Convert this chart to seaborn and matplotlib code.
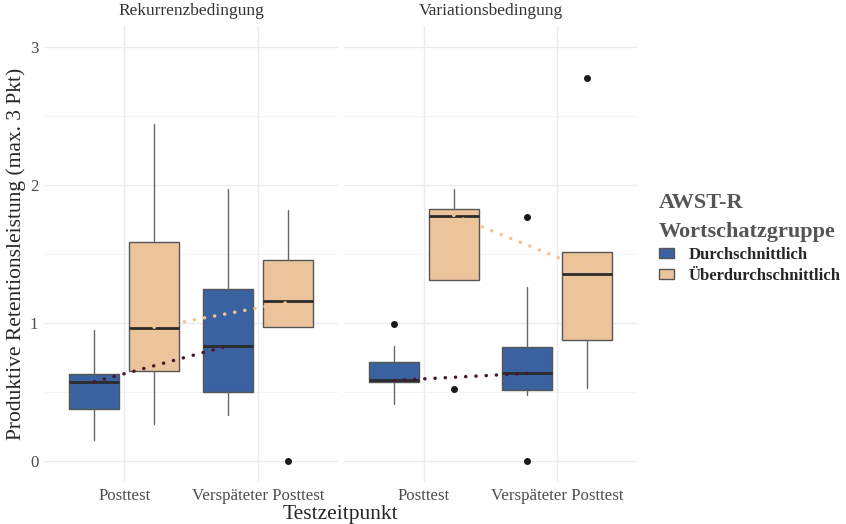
import numpy as np
import matplotlib.pyplot as plt
import seaborn as sns
from matplotlib.patches import Patch

# Data (box summary per condition / group / time point)
conditions = ['Rekurrenzbedingung', 'Variationsbedingung']
timepoints = ['Posttest', 'Verspäteter Posttest']
groups = ['Durchschnittlich', 'Überdurchschnittlich']

# order: [condition][group][timepoint]
q1 = [[[0.375, 0.50], [0.655, 0.97]],
      [[0.575, 0.515], [1.31, 0.875]]]
med = [[[0.575, 0.835], [0.965, 1.16]],
       [[0.585, 0.636], [1.778, 1.353]]]
q3 = [[[0.635, 1.25], [1.585, 1.46]],
      [[0.715, 0.828], [1.826, 1.512]]]
whislo = [[[0.157, 0.333], [0.273, 0.97]],
          [[0.413, 0.478], [1.31, 0.527]]]
whishi = [[[0.95, 1.97], [2.44, 1.82]],
          [[0.836, 1.263], [1.969, 1.512]]]
fliers = [[[[], []], [[], [0.0]]],
          [[[0.993], [1.768, 0.0]], [[0.522], [2.775]]]]

# dotted summary lines (posttest -> delayed posttest)
line_vals = [[[0.575, 0.835], [0.97, 1.15]],
             [[0.585, 0.636], [1.78, 1.39]]]

box_colors = ['#3B62A0', '#ECC49C']
line_colors = ['#4A1530', '#F3C48E']

sns.set_theme(style='whitegrid')
plt.rcParams['font.family'] = ['Liberation Serif', 'DejaVu Serif']

fig = plt.figure(figsize=(8.46, 5.24), dpi=100)
axes = [fig.add_axes([44/846, 42/524, 294/846, 456/524]),
        fig.add_axes([344/846, 42/524, 293/846, 456/524])]

offset = 0.224
width = 0.373

for c, ax in enumerate(axes):
    for g in range(2):
        stats = []
        positions = []
        for t in range(2):
            stats.append(dict(q1=q1[c][g][t], med=med[c][g][t], q3=q3[c][g][t],
                              whislo=whislo[c][g][t], whishi=whishi[c][g][t],
                              fliers=fliers[c][g][t]))
            positions.append(t + (offset if g == 1 else -offset))
        ax.bxp(stats, positions=positions, widths=width, patch_artist=True,
               showcaps=False,
               boxprops=dict(facecolor=box_colors[g], edgecolor='#555555', linewidth=1.0),
               medianprops=dict(color='#2b2b2b', linewidth=2.0),
               whiskerprops=dict(color='#666666', linewidth=1.0),
               flierprops=dict(marker='o', markersize=4, markerfacecolor='#1a1a1a',
                               markeredgecolor='#1a1a1a'),
               zorder=2)
    for g in range(2):
        xs = [t + (offset if g == 1 else -offset) for t in range(2)]
        ax.plot(xs, line_vals[c][g], linestyle=(0, (0.05, 2.9)), color=line_colors[g],
                linewidth=2.5, dash_capstyle='round', zorder=5)

    ax.set_xlim(-0.6, 1.6)
    ax.set_ylim(-0.15, 3.15)
    ax.set_xticks([0, 1])
    ax.set_xticklabels(timepoints)
    ax.set_yticks([0, 1, 2, 3])
    ax.set_yticks([0.5, 1.5, 2.5], minor=True)
    ax.grid(True, which='major', color='#EBEBEB', linewidth=1.0)
    ax.grid(True, which='minor', axis='y', color='#F3F3F3', linewidth=0.6)
    ax.set_facecolor('white')
    for s in ax.spines.values():
        s.set_visible(False)
    ax.tick_params(axis='both', which='both', length=0, labelsize=12.2,
                   labelcolor='#4D4D4D', pad=4)
    ax.set_title(conditions[c], fontsize=12.5, color='#333333', pad=8)
    ax.set_axisbelow(True)

axes[1].set_yticklabels([])
axes[0].set_ylabel('Produktive Retentionsleistung (max. 3 Pkt)', fontsize=15.5, labelpad=3)
fig.text(340/846, 1 - 514/524, 'Testzeitpunkt', fontsize=15.5, ha='center', va='center')

handles = [Patch(facecolor=box_colors[i], edgecolor='#555555', label=groups[i]) for i in range(2)]
leg = fig.legend(handles=handles, loc='upper left', bbox_to_anchor=(644/846, 1 - 178/524),
                 frameon=False, title='AWST-R\nWortschatzgruppe', alignment='left',
                 prop={'size': 12, 'weight': 'bold'}, handlelength=0.9, handleheight=0.6,
                 handletextpad=0.9, labelspacing=0.3)
leg.get_title().set_fontsize(16)
leg.get_title().set_fontweight('bold')
leg.get_title().set_color('#555555')
leg.get_title().set_linespacing(1.6)

fig.savefig('out.png', dpi=100)
